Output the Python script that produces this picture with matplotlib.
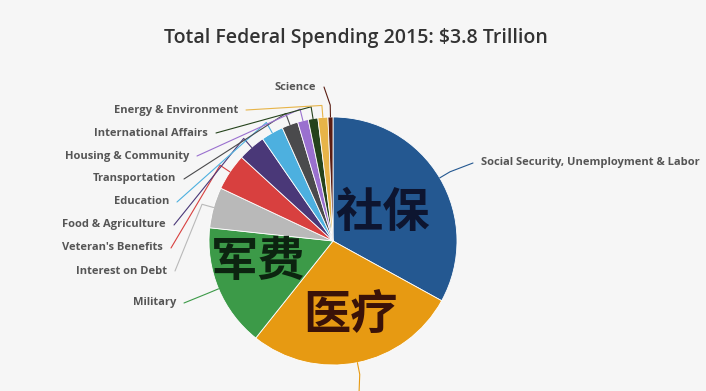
import numpy as np
import matplotlib
matplotlib.use('Agg')
import matplotlib.pyplot as plt

# data (percent of total)
labels = ['Social Security, Unemployment & Labor', 'Medicare & Health', 'Military',
          'Interest on Debt', "Veteran's Benefits", 'Food & Agriculture', 'Education',
          'Transportation', 'Housing & Community', 'International Affairs',
          'Energy & Environment', 'Science']
values = [33.0, 27.7, 16.0, 5.3, 4.8, 3.6, 2.9, 2.1, 1.4, 1.25, 1.3, 0.65]
colors = ['#245891', '#e79a12', '#3c9a48', '#b9b9b9', '#d8403f', '#4a3878', '#4db0df',
          '#4a4a4c', '#9a70cf', '#25431c', '#e7b448', '#5a1d12']
# label anchors in pixels (x, y from top); the Medicare label lies below the chart
label_pos = [(481, 163, 'left'), (366, 420, 'left'), (176, 303, 'right'),
             (167, 271, 'right'), (163, 248, 'right'), (166, 225, 'right'),
             (169, 202, 'right'), (176, 179, 'right'), (189, 156, 'right'),
             (208, 133, 'right'), (238, 110, 'right'), (316, 87, 'right')]
overlay = [('社保', 382, 213, '#0d1530'), ('医疗', 350, 315, '#3a1208'), ('军费', 258, 262, '#0c2410')]

W, H = 706, 391
bg = '#f6f6f6'
fig = plt.figure(figsize=(W/100, H/100), dpi=100, facecolor=bg)
ax = fig.add_axes([0, 0, 1, 1])
ax.set_facecolor(bg)

cx, cy, R = 333, H - 241, 124
wedges, _ = ax.pie(values, colors=colors, startangle=90, counterclock=False,
                   center=(cx, cy), radius=R, normalize=True,
                   wedgeprops=dict(edgecolor='white', linewidth=0.6))
ax.set_xlim(0, W)
ax.set_ylim(0, H)
ax.set_aspect('equal')
ax.axis('off')

for w, lab, (lx, ly, ha), c in zip(wedges, labels, label_pos, colors):
    th = np.deg2rad((w.theta1 + w.theta2) / 2)
    p0 = (cx + R*np.cos(th), cy + R*np.sin(th))
    p1 = (cx + (R+12)*np.cos(th), cy + (R+12)*np.sin(th))
    y = H - ly
    ex = lx - 8 if ha == 'left' else lx + 8
    ax.plot([ex, p1[0], p0[0]], [y, p1[1], p0[1]], color=c, lw=0.8,
            solid_capstyle='round', clip_on=True)
    if ly < H:
        ax.text(lx, y, lab, ha=ha, va='center', fontsize=8, fontweight='bold',
                color='#555555', family=['Open Sans', 'DejaVu Sans'])

for txt, x, y, c in overlay:
    ax.text(x, H - y, txt, ha='center', va='center', fontsize=34, color=c,
            family=['Noto Sans CJK SC'], fontweight='bold')

fig.text(356/W, 1 - 38/H, 'Total Federal Spending 2015: $3.8 Trillion', ha='center',
         va='center', fontsize=14, fontweight='semibold', color='#333333',
         family=['Open Sans', 'DejaVu Sans'])

fig.savefig('out.png', dpi=100, facecolor=bg)
